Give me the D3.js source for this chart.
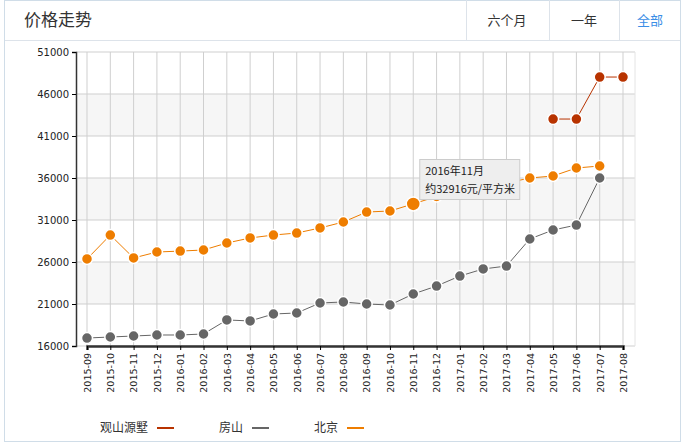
<!DOCTYPE html>
<html><head><meta charset="utf-8">
<script src="https://cdn.jsdelivr.net/npm/d3@7"></script>
<style>body{margin:0;background:#fff;font-family:"Noto Sans CJK SC","DejaVu Sans",sans-serif}</style>
</head><body>
<svg id="c" width="685" height="442"></svg>
<script>
const months = ["2015-09","2015-10","2015-11","2015-12","2016-01","2016-02","2016-03","2016-04","2016-05","2016-06","2016-07","2016-08","2016-09","2016-10","2016-11","2016-12","2017-01","2017-02","2017-03","2017-04","2017-05","2017-06","2017-07","2017-08"];
const beijing = [26360,29210,26480,27190,27300,27430,28260,28860,29210,29450,30050,30760,31950,32070,32916,33800,34300,34900,35400,36000,36240,37190,37430,null];
const fangshan = [16950,17070,17190,17310,17310,17430,19100,18980,19810,19930,21120,21240,21000,20880,22190,23140,24330,25170,25520,28740,29810,30400,36000,null];
const guanshan = [null,null,null,null,null,null,null,null,null,null,null,null,null,null,null,null,null,null,null,null,43020,43020,48020,48020];
const yTicks = [16000,21000,26000,31000,36000,41000,46000,51000];
const seriesNames = ["观山源墅","房山","北京"];
const colors = ["#b83300","#666666","#ee7d00"];

const svg = d3.select("#c");
svg.append("rect").attr("x",4.5).attr("y",0.5).attr("width",676).attr("height",441).attr("fill","#fff").attr("stroke","#d0dde8");
svg.append("line").attr("x1",5).attr("x2",680).attr("y1",40.5).attr("y2",40.5).attr("stroke","#dde3ea");
svg.append("text").attr("x",24).attr("y",26).attr("font-size",17).attr("fill","#333").text("价格走势");
[466,549,619].forEach(x=>svg.append("line").attr("x1",x+.5).attr("x2",x+.5).attr("y1",0).attr("y2",40).attr("stroke","#dde3ea"));
[["六个月",507,"#333"],["一年",584,"#333"],["全部",650,"#3a8ee6"]].forEach(([t,x,c])=>
  svg.append("text").attr("x",x).attr("y",25).attr("text-anchor","middle").attr("font-size",13).attr("fill",c).text(t));

const x = d3.scalePoint().domain(months).range([87,623]);
const y = d3.scaleLinear().domain([16000,51000]).range([346,52]);
const L=76,R=635;
for(let i=0;i<yTicks.length-1;i++){
  if(i%2==1) svg.append("rect").attr("x",L).attr("width",R-L).attr("y",y(yTicks[i+1])).attr("height",y(yTicks[i])-y(yTicks[i+1])).attr("fill","#f6f6f6");
}
yTicks.forEach(t=>svg.append("line").attr("x1",L).attr("x2",R).attr("y1",y(t)).attr("y2",y(t)).attr("stroke","#cfcfcf"));
months.forEach(m=>svg.append("line").attr("x1",x(m)).attr("x2",x(m)).attr("y1",52).attr("y2",346).attr("stroke","#cfcfcf"));
svg.append("line").attr("x1",R).attr("x2",R).attr("y1",52).attr("y2",346).attr("stroke","#e4e4e4");
const ya = svg.append("g").attr("transform",`translate(${L},0)`).call(d3.axisLeft(y).tickValues(yTicks).tickSize(4).tickFormat(d3.format("d")));
ya.selectAll("text").attr("font-size",10).attr("fill","#222").attr("font-family","DejaVu Sans");
ya.select(".domain").attr("stroke","#333").attr("stroke-width",1.5);
const xa = svg.append("g").attr("transform",`translate(0,346)`).call(d3.axisBottom(x).tickSize(4));
xa.select(".domain").attr("stroke","#333").attr("stroke-width",2.5);
xa.selectAll("text").attr("font-size",9.5).attr("fill","#222").attr("font-family","DejaVu Sans")
  .attr("transform","rotate(-90)").attr("text-anchor","end").attr("x",-7).attr("y",0).attr("dy","0.35em");

const data=[guanshan,fangshan,beijing];
data.forEach((arr,si)=>{
  const pts=arr.map((v,i)=>({m:months[i],v})).filter(d=>d.v!=null);
  svg.append("path").datum(pts).attr("fill","none").attr("stroke",colors[si]).attr("stroke-width",1)
    .attr("d",d3.line().x(d=>x(d.m)).y(d=>y(d.v)));
  svg.selectAll(null).data(pts).enter().append("circle")
    .attr("cx",d=>x(d.m)).attr("cy",d=>y(d.v)).attr("r",d=>(si==2&&d.m=="2016-11")?7:5.5)
    .attr("fill",colors[si]).attr("stroke","#fff").attr("stroke-width",1.5);
});
const tx=x("2016-11")+6, ty=159;
svg.append("rect").attr("x",tx+0.5).attr("y",ty+0.5).attr("width",100).attr("height",40).attr("fill","#eeeeee").attr("stroke","#cccccc");
svg.append("text").attr("x",tx+6).attr("y",ty+16).attr("font-size",11).attr("fill","#222").text("2016年11月");
svg.append("text").attr("x",tx+6).attr("y",ty+34).attr("font-size",11).attr("fill","#222").text("约32916元/平方米");
[[100,0],[219,1],[314,2]].forEach(([lx,i])=>{
  const t=svg.append("text").attr("x",lx).attr("y",432).attr("font-size",12).attr("fill","#333").text(seriesNames[i]);
  const w=t.node().getComputedTextLength();
  svg.append("line").attr("x1",lx+w+9).attr("x2",lx+w+26).attr("y1",428).attr("y2",428).attr("stroke",colors[i]).attr("stroke-width",2);
});
</script></body></html>
